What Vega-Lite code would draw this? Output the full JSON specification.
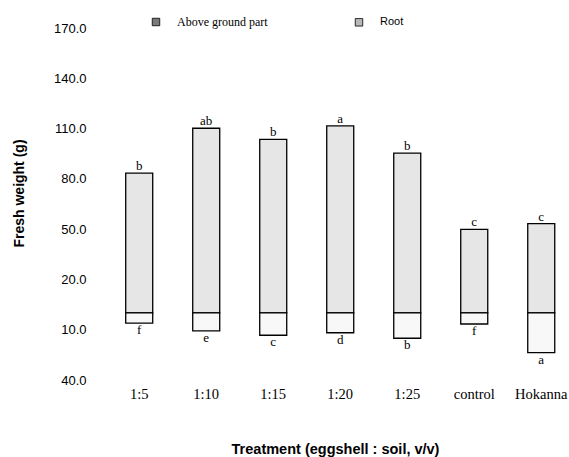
{
  "$schema": "https://vega.github.io/schema/vega-lite/v6.json",
  "width": 475,
  "height": 352,
  "autosize": {"type": "none"},
  "padding": {"left": 94, "top": 28, "right": 0, "bottom": 77},
  "background": "white",
  "config": {"view": {"stroke": null}},
  "data": {
    "values": [
      {"treatment": "1:5", "part": "Above ground part", "weight": 83.4, "letter": "b"},
      {"treatment": "1:10", "part": "Above ground part", "weight": 110.2, "letter": "ab"},
      {"treatment": "1:15", "part": "Above ground part", "weight": 103.6, "letter": "b"},
      {"treatment": "1:20", "part": "Above ground part", "weight": 111.6, "letter": "a"},
      {"treatment": "1:25", "part": "Above ground part", "weight": 95.3, "letter": "b"},
      {"treatment": "control", "part": "Above ground part", "weight": 49.9, "letter": "c"},
      {"treatment": "Hokanna", "part": "Above ground part", "weight": 53.3, "letter": "c"},
      {"treatment": "1:5", "part": "Root", "weight": -6.1, "letter": "f"},
      {"treatment": "1:10", "part": "Root", "weight": -10.7, "letter": "e"},
      {"treatment": "1:15", "part": "Root", "weight": -13.3, "letter": "c"},
      {"treatment": "1:20", "part": "Root", "weight": -11.8, "letter": "d"},
      {"treatment": "1:25", "part": "Root", "weight": -15.1, "letter": "b"},
      {"treatment": "control", "part": "Root", "weight": -6.6, "letter": "f"},
      {"treatment": "Hokanna", "part": "Root", "weight": -23.7, "letter": "a"}
    ]
  },
  "encoding": {
    "x": {
      "field": "treatment",
      "type": "nominal",
      "sort": ["1:5", "1:10", "1:15", "1:20", "1:25", "control", "Hokanna"],
      "scale": {"paddingInner": 0.597, "paddingOuter": 0.343, "align": 0.69},
      "axis": {
        "title": "Treatment (eggshell : soil, v/v)",
        "labelAngle": 0,
        "domain": false,
        "ticks": false,
        "labelPadding": 7,
        "labelFont": "Liberation Serif",
        "labelFontSize": 14.5,
        "labelColor": "black",
        "titleFont": "Liberation Sans",
        "titleFontSize": 14.5,
        "titleFontWeight": "bold",
        "titleColor": "black",
        "titleX": 241,
        "titleY": 73,
        "titleBaseline": "alphabetic",
        "titleAlign": "center",
        "titleAnchor": "start"
      }
    }
  },
  "layer": [
    {
      "mark": {"type": "bar", "stroke": "black", "strokeWidth": 1.3},
      "encoding": {
        "y": {
          "field": "weight",
          "type": "quantitative",
          "scale": {"domain": [-40, 170], "nice": false},
          "axis": {
            "title": "Fresh weight (g)",
            "values": [170, 140, 110, 80, 50, 20, -10, -40],
            "labelExpr": "format(abs(datum.value), '.1f')",
            "grid": false,
            "domain": false,
            "ticks": false,
            "labelPadding": 8,
            "labelFont": "Liberation Sans",
            "labelFontSize": 13,
            "labelColor": "black",
            "titleFont": "Liberation Sans",
            "titleFontSize": 14,
            "titleFontWeight": "bold",
            "titleColor": "black",
            "titleX": -70.5,
            "titleY": 165,
            "titleAngle": -90,
            "titleBaseline": "alphabetic",
            "titleAlign": "center"
          }
        },
        "fill": {
          "condition": {"test": "datum.part === 'Root'", "value": "#f8f8f8"},
          "value": "#e6e6e6"
        }
      }
    },
    {
      "mark": {"type": "square", "opacity": 0, "size": 1},
      "encoding": {
        "y": {"field": "weight", "type": "quantitative"},
        "color": {
          "field": "part",
          "type": "nominal",
          "scale": {"domain": ["Above ground part", "Root"], "range": ["#7a7a7a", "#b8b8b8"]},
          "legend": {
            "title": null,
            "orient": "none",
            "direction": "horizontal",
            "columns": 2,
            "legendX": 56,
            "legendY": -12,
            "symbolType": "square",
            "symbolSize": 56,
            "symbolOpacity": 1,
            "symbolStrokeColor": "black",
            "symbolStrokeWidth": 0.8,
            "labelOffset": 15,
            "labelFontSize": 12,
            "labelColor": "black",
            "columnPadding": 85,
            "encode": {
              "labels": {"update": {"font": {"signal": "datum.value === 'Root' ? 'Liberation Sans' : 'Liberation Serif'"}, "fontSize": {"signal": "datum.value === 'Root' ? 11 : 12"}}}
            }
          }
        }
      }
    },
    {
      "mark": {"type": "rule", "color": "black", "strokeWidth": 1.2},
      "encoding": {"y": {"datum": 0}}
    },
    {
      "transform": [{"filter": "datum.part === 'Above ground part'"}],
      "mark": {"type": "text", "baseline": "alphabetic", "dy": -3, "font": "Liberation Serif", "fontSize": 13, "color": "black"},
      "encoding": {
        "y": {"field": "weight", "type": "quantitative"},
        "text": {"field": "letter"}
      }
    },
    {
      "transform": [{"filter": "datum.part === 'Root'"}],
      "mark": {"type": "text", "baseline": "top", "dy": 1, "font": "Liberation Serif", "fontSize": 13, "color": "black"},
      "encoding": {
        "y": {"field": "weight", "type": "quantitative"},
        "text": {"field": "letter"}
      }
    }
  ]
}
